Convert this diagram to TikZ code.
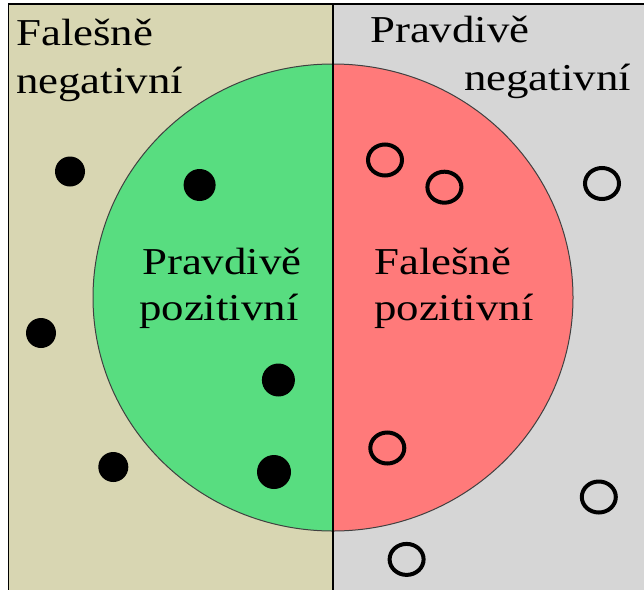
\documentclass[tikz,border=0pt]{standalone}
\usepackage{fontspec}
\setmainfont{Liberation Serif}[FakeStretch=1.18]
\usepackage{tikz}

\definecolor{bezova}{RGB}{216,214,178}
\definecolor{seda}{RGB}{214,214,214}
\definecolor{zelena}{RGB}{88,221,128}
\definecolor{cervena}{RGB}{255,122,122}

\tikzset{
  popis/.style={anchor=base west, inner sep=0pt, font=\fontsize{38}{44}\selectfont},
  plna/.style={fill=black},
  prazdna/.style={draw=black, line width=4pt}
}

\begin{document}
\begin{tikzpicture}[x=1pt,y=-1pt]
		\clip (0,0) rectangle (644,589);
		%Pozadi
		\fill[bezova] (8.5,4) rectangle (333,600);
		\fill[seda] (333,4) rectangle (650,600);
		\begin{scope}
			\clip (0,0) rectangle (333,589);
			\fill[zelena] (333,297.5) ellipse [x radius=240, y radius=233.5];
		\end{scope}
		\begin{scope}
			\clip (333,0) rectangle (644,589);
			\fill[cervena] (333,297.5) ellipse [x radius=240, y radius=233.5];
		\end{scope}
		\draw[black!75, line width=1pt] (333,297.5) ellipse [x radius=240, y radius=233.5];
		\draw[line width=1.5pt] (8.5,600) -- (8.5,4) -- (650,4);
		\draw[line width=1.5pt] (333,4) -- (333,600);
		
		%Popisky
		\node[popis] (fn1) at (16,45) {Falešně};
		\node[popis] (fn2) at (16,93) {negativní};
		\node[popis] (pn1) at (370,42) {Pravdivě};
		\node[popis] (pn2) at (464,90) {negativní};
		\node[popis] (pp1) at (142,274) {Pravdivě};
		\node[popis] (pp2) at (139,320) {pozitivní};
		\node[popis] (fp1) at (374,274) {Falešně};
		\node[popis] (fp2) at (374,320) {pozitivní};
		
		%Body
		\foreach \x/\y/\r in {70/171.5/15, 199.6/185/16, 41/333/15, 278.4/380/16.5, 113.3/467/15, 274/472/17}
			\fill[plna] (\x,\y) circle (\r);
		\foreach \x/\y in {385/160, 444.4/187.2, 602/183.5, 387.3/448, 598.8/497, 406.6/559.4}
			\draw[prazdna] (\x,\y) ellipse [x radius=17, y radius=15.5];
\end{tikzpicture}
\end{document}
